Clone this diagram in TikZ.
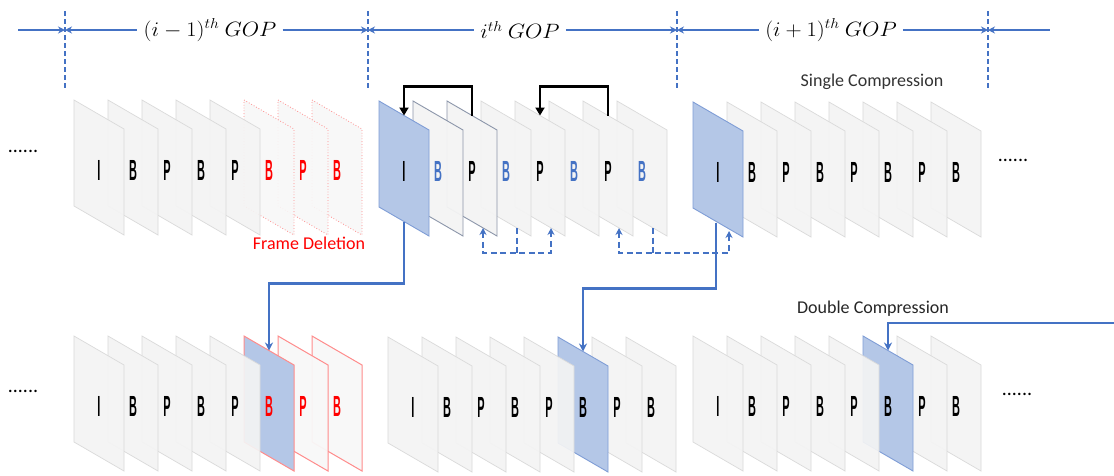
\documentclass[tikz,border=0pt]{standalone}
\usepackage{fontspec}
\setmainfont{Carlito}
\newfontfamily\letfont{Liberation Sans}
\usetikzlibrary{arrows.meta,calc}
\definecolor{bl}{HTML}{4472C4}
\definecolor{blfill}{HTML}{B4C7E7}
\definecolor{blborder}{HTML}{7F9DD6}
\definecolor{grfill}{HTML}{F4F4F4}
\definecolor{grborder}{HTML}{DADADA}
\definecolor{dkborder}{HTML}{8C96AA}
\definecolor{rd}{HTML}{FF0000}
\definecolor{rdlight}{HTML}{FF8C8C}
\newcommand{\fr}[6]{%
  \draw[#3] (#1,#2) -- ++(50,29) -- ++(0,106) -- ++(-50,-29) -- cycle;
  \node[lt,text=#5] (#6) at (#1+25,#2+70) {\scalebox{0.42}[1.12]{#4}};
  \coordinate (#6-t) at (#1+25,#2+14.5);
  \coordinate (#6-b) at (#1+25,#2+120.5);
  \coordinate (#6-bb) at (#1+36,#2+127);
}
\tikzset{
  lt/.style={font=\letfont\bfseries\fontsize{26}{26}\selectfont, inner sep=0pt},
  grfr/.style={fill=grfill, fill opacity=0.92, draw=grborder, line width=0.7pt},
  dkfr/.style={fill=grfill, fill opacity=0.95, draw=dkborder, line width=0.9pt},
  blfr/.style={fill=blfill, draw=blborder, line width=0.9pt},
  delfr/.style={fill=grfill!60!white, fill opacity=0.9, draw=rdlight, dotted, line width=0.8pt},
  rdfr/.style={fill=grfill!60!white, fill opacity=0.95, draw=rdlight, line width=1pt},
  rbfr/.style={fill=blfill, draw=rdlight, line width=1pt},
  rl/.style={draw=bl, line width=2pt},
  rtip/.style={-{Stealth[length=7pt,width=7pt]}},
  ltip/.style={{Stealth[length=7pt,width=7pt]}-},
  vd/.style={draw=bl, line width=1.7pt, dash pattern=on 5pt off 3pt},
  gop/.style={font=\fontsize{21}{21}\selectfont, inner sep=6pt},
  lab/.style={font=\fontsize{18}{18}\selectfont, inner sep=0pt},
  dots/.style={font=\fontsize{20}{20}\selectfont, inner sep=0pt},
  blk/.style={draw=black, line width=2.6pt, -{Triangle[length=8pt,width=9pt]}},
  bsol/.style={draw=bl, line width=2.1pt, -{Stealth[length=8pt,width=8pt]}},
  bdash/.style={draw=bl, line width=2pt, dash pattern=on 6pt off 3.5pt},
  btip/.style={{Stealth[length=7pt,width=7pt]}-{Stealth[length=7pt,width=7pt]}},
}
\begin{document}
\begin{tikzpicture}[x=1pt,y=-1pt]
\useasboundingbox (0,0) rectangle (1114,475);
\fill[white] (0,0) rectangle (1114,475);

% ---------- ruler ----------
\coordinate (v1t) at (65,11);  \coordinate (v1b) at (65,88);  \coordinate (v1) at (65,30);
\coordinate (v2t) at (368,11); \coordinate (v2b) at (368,88); \coordinate (v2) at (368,30);
\coordinate (v3t) at (677,11); \coordinate (v3b) at (677,88); \coordinate (v3) at (677,30);
\coordinate (v4t) at (988,11); \coordinate (v4b) at (988,88); \coordinate (v4) at (988,30);
\coordinate (r0) at (18,30);
\coordinate (r5) at (1050,30);
\draw[vd] (v1t) -- (v1b);
\draw[vd] (v2t) -- (v2b);
\draw[vd] (v3t) -- (v3b);
\draw[vd] (v4t) -- (v4b);
\node[gop] (g1) at (210,30) {\scalebox{1.08}[1]{$(i-1)^{th}\ GOP$}};
\node[gop] (g2) at (520,30) {\scalebox{1.08}[1]{$i^{th}\ GOP$}};
\node[gop] (g3) at (831,30) {\scalebox{1.08}[1]{$(i+1)^{th}\ GOP$}};
\draw[rl,rtip] (r0) -- (v1);
\draw[rl,ltip] (v1) -- (g1);
\draw[rl,rtip] (g1) -- (v2);
\draw[rl,ltip] (v2) -- (g2);
\draw[rl,rtip] (g2) -- (v3);
\draw[rl,ltip] (v3) -- (g3);
\draw[rl,rtip] (g3) -- (v4);
\draw[rl,ltip] (v4) -- (r5);

% ---------- top row ----------
\node[dots] (dt1) at (23,151) {......};
\foreach \k/\L in {7/B,6/P,5/B} {\fr{74+34*\k}{100}{delfr}{\L}{rd}{a\k}}
\foreach \k/\L in {4/P,3/B,2/P,1/B,0/I} {\fr{74+34*\k}{100}{grfr}{\L}{black}{a\k}}
\node[lab,text=rd] (fd) at (309,243) {Frame Deletion};

\foreach \k/\L/\c in {7/B/bl,6/P/black,5/B/bl,4/P/black,3/B/bl} {\fr{379+34*\k}{101}{grfr}{\L}{\c}{b\k}}
\fr{379+34*2}{101}{dkfr}{P}{black}{b2}
\fr{379+34}{101}{dkfr}{B}{bl}{b1}
\fr{379}{101}{blfr}{I}{black}{b0}

\foreach \k/\L in {7/B,6/P,5/B,4/P,3/B,2/P,1/B} {\fr{693+34*\k}{102}{grfr}{\L}{black}{c\k}}
\fr{693}{102}{blfr}{I}{black}{c0}
\node[lab,text=black!80] (sc) at (872,82) {Single Compression};
\node[dots] (dt2) at (1013,160) {......};

% ---------- bottom row ----------
\node[dots] (dt3) at (23,391) {......};
\fr{74+34*7}{336}{rdfr}{B}{rd}{d7}
\fr{74+34*6}{336}{rdfr}{P}{rd}{d6}
\fr{74+34*5}{336}{rbfr}{B}{rd}{d5}
\foreach \k/\L in {4/P,3/B,2/P,1/B,0/I} {\fr{74+34*\k}{336}{grfr}{\L}{black}{d\k}}

\foreach \k/\L in {7/B,6/P} {\fr{388+34*\k}{337}{grfr}{\L}{black}{e\k}}
\fr{388+34*5}{337}{blfr}{B}{black}{e5}
\foreach \k/\L in {4/P,3/B,2/P,1/B,0/I} {\fr{388+34*\k}{337}{grfr}{\L}{black}{e\k}}

\foreach \k/\L in {7/B,6/P} {\fr{693+34*\k}{336}{grfr}{\L}{black}{f\k}}
\fr{693+34*5}{336}{blfr}{B}{black}{f5}
\foreach \k/\L in {4/P,3/B,2/P,1/B,0/I} {\fr{693+34*\k}{336}{grfr}{\L}{black}{f\k}}
\node[lab,text=black!85] (dc) at (873,309) {Double Compression};
\node[dots] (dt4) at (1017,394) {......};

% ---------- reference arrows ----------
\draw[blk] (b2-t) -- ++(0,-29) -| (b0-t);
\draw[blk] (b6-t) -- ++(0,-29) -| (b4-t);

\coordinate (h1) at ($(b3-bb)+(0,25)$);
\draw[bdash,btip] (b2-bb) |- (h1) -| (b4-bb);
\draw[bdash] (b3-bb) -- (h1);
\coordinate (h2) at ($(b7-bb)+(0,25)$);
\draw[bdash,btip] (b6-bb) |- (h2) -| ($(c0-bb)+(0,2)$);
\draw[bdash] (b7-bb) -- (h2);

% ---------- compression links ----------
\draw[bsol] (b0-b) -- ++(0,62) -| (d5-t);
\draw[bsol] ($(c0-b)+(-2,0)$) -- ++(0,66) -| (e5-t);
\coordinate (rin) at (1114,323);
\draw[bsol] (rin) -| (f5-t);
\end{tikzpicture}
\end{document}
